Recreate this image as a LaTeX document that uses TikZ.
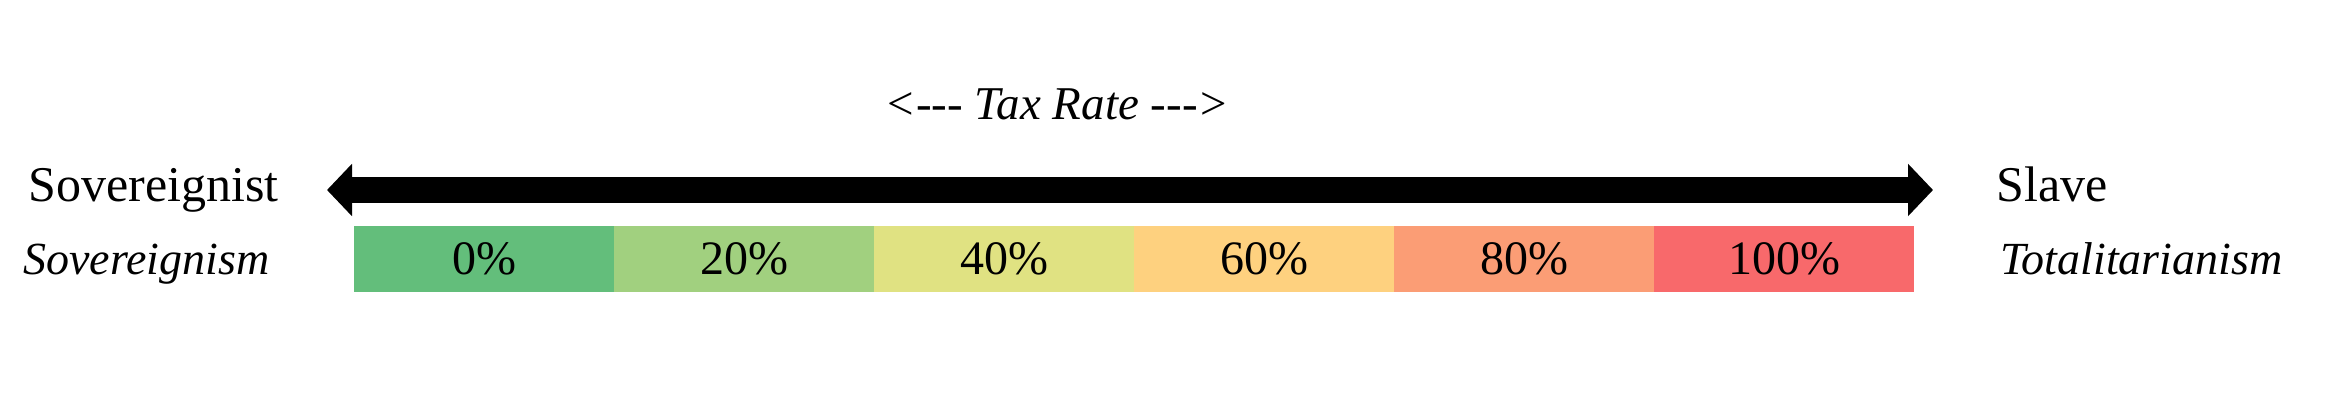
\documentclass[tikz,border=0pt]{standalone}
\usepackage{fontspec}
\setmainfont{Liberation Serif}
\usetikzlibrary{arrows.meta,positioning}
\definecolor{rate0}{HTML}{63BE7B}
\definecolor{rate1}{HTML}{A1D07F}
\definecolor{rate2}{HTML}{E0E282}
\definecolor{rate3}{HTML}{FED17F}
\definecolor{rate4}{HTML}{FB9D75}
\definecolor{rate5}{HTML}{F8696B}
\definecolor{ink}{HTML}{000000}

\begin{document}
\begin{tikzpicture}[
  x=0.5pt,y=-0.5pt,
  endlbl/.style={font=\fontsize{25}{30}\selectfont,text=ink,inner sep=0pt,anchor=base west},
  endism/.style={font=\fontsize{23}{28}\selectfont\itshape,text=ink,inner sep=0pt,anchor=base west},
  seg/.style={minimum width=130pt,minimum height=33pt,inner sep=0pt,anchor=west,
              font=\fontsize{24}{29}\selectfont,text=ink},
  bigarrow/.style={line width=13pt,draw=ink,
              {Triangle[length=12.5pt,width=25.5pt]}-{Triangle[length=12.5pt,width=25.5pt]}},
]
\useasboundingbox (0,0) rectangle (2332,400);

% ===================== TITLE =====================
\node[font=\fontsize{23.5}{28}\selectfont\itshape,text=ink,inner sep=0pt,anchor=base] (title) at (1057,120)
  {<\mbox{-}\mbox{-}\mbox{-} Tax Rate \mbox{-}\mbox{-}\mbox{-}>};

% ===================== DOUBLE ARROW =====================
\coordinate (lefttip) at (327,190);
\coordinate (righttip) at (1933,190);
\draw[bigarrow] (lefttip) -- (righttip);

% ===================== END LABELS =====================
\node[endlbl] (sovlbl) at (28,202) {Sovereignist};
\node[endism] (sovism) at (23,275) {Sovereignism};
\node[endlbl] (slavelbl) at (1996,202) {Slave};
\node[endism] (totalism) at (2000,275) {Totalitarianism};

% ===================== RATE SCALE =====================
\foreach \i/\pct in {0/0,1/20,2/40,3/60,4/80,5/100}{
  \node[seg,fill=rate\i] (seg\i) at ({354+260*\i},259) {\pct\%};
}

\end{tikzpicture}
\end{document}
